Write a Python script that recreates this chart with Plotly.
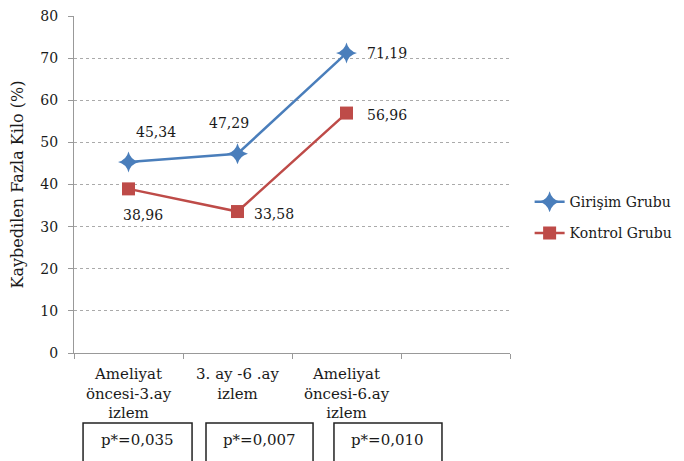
import plotly.graph_objects as go

# Follow-up periods (x categories) and the empty trailing slot of the axis
periods = ["Ameliyat<br>öncesi-3.ay<br>izlem", "3. ay -6 .ay<br>izlem", "Ameliyat<br>öncesi-6.ay<br>izlem"]
axis_slots = periods + [" "]

# Excess weight lost (%) per group
girisim = [45.34, 47.29, 71.19]
kontrol = [38.96, 33.58, 56.96]

# p values shown in boxes under each period
p_values = ["p*=0,035", "p*=0,007", "p*=0,010"]

BLUE = "#4A7EBB"
RED = "#BE4B48"
FONT = "DejaVu Serif"
INK = "#1a1a1a"

fig = go.Figure()
fig.add_trace(go.Scatter(
    x=periods, y=girisim, name="Girişim Grubu", mode="lines+markers",
    legendgroup="g", line=dict(color=BLUE, width=2.5),
    marker=dict(symbol="star-diamond", size=15, color=BLUE),
))
fig.add_trace(go.Scatter(
    x=periods, y=kontrol, name="Kontrol Grubu", mode="lines+markers",
    legendgroup="k", line=dict(color=RED, width=2.5),
    marker=dict(symbol="square", size=13, color=RED),
))

def fmt(v):
    return f"{v:.2f}".replace(".", ",")

# value labels, offsets in pixels from each point
g_off = [(27, 30), (-9, 31), (40, 0)]
k_off = [(14, -26), (36, -2), (40, -2)]
for vals, offs in ((girisim, g_off), (kontrol, k_off)):
    for cat, v, (dx, dy) in zip(periods, vals, offs):
        fig.add_annotation(x=cat, y=v, text=fmt(v), showarrow=False,
                           xshift=dx, yshift=dy,
                           font=dict(family=FONT, size=14, color=INK))

# boxed p values below the axis labels
box_spans = [(-0.417, 0.583), (0.711, 1.693), (1.885, 2.876)]
for (x0, x1), txt in zip(box_spans, p_values):
    fig.add_shape(type="rect", xref="x", yref="paper", x0=x0, x1=x1,
                  y0=-0.36, y1=-0.208, line=dict(color="#222", width=1.5),
                  fillcolor="white")
    fig.add_annotation(xref="x", yref="paper", x=(x0 + x1) / 2, y=-0.257,
                       text=txt, showarrow=False, yanchor="middle",
                       font=dict(family=FONT, size=15, color=INK))

fig.update_layout(
    width=684, height=461,
    margin=dict(l=74, r=174, t=16, b=108, autoexpand=False),
    paper_bgcolor="white", plot_bgcolor="white",
    font=dict(family=FONT, size=14, color=INK),
    showlegend=True,
    legend=dict(x=1.045, y=0.495, xanchor="left", yanchor="top",
                traceorder="grouped", tracegroupgap=10,
                font=dict(family=FONT, size=14, color=INK),
                bgcolor="rgba(0,0,0,0)"),
    xaxis=dict(
        type="category", categoryorder="array", categoryarray=axis_slots,
        range=[-0.5, 3.5], tickson="boundaries", ticks="outside",
        ticklen=5, tickcolor="#999", showline=True, linecolor="#999",
        linewidth=1, showgrid=False, zeroline=False, ticklabelstandoff=7,
        tickfont=dict(family=FONT, size=15, color=INK),
    ),
    yaxis=dict(
        range=[0, 80], dtick=10, ticks="outside", ticklen=5, tickcolor="#999",
        showline=True, linecolor="#999", linewidth=1,
        showgrid=True, gridcolor="#aaaaaa", griddash="dot", gridwidth=1,
        zeroline=False, ticklabelstandoff=7,
        tickfont=dict(family=FONT, size=14, color=INK),
        title=dict(text="Kaybedilen Fazla Kilo (%)", standoff=12,
                   font=dict(family=FONT, size=16, color=INK)),
    ),
)

fig.write_html("out.html")
